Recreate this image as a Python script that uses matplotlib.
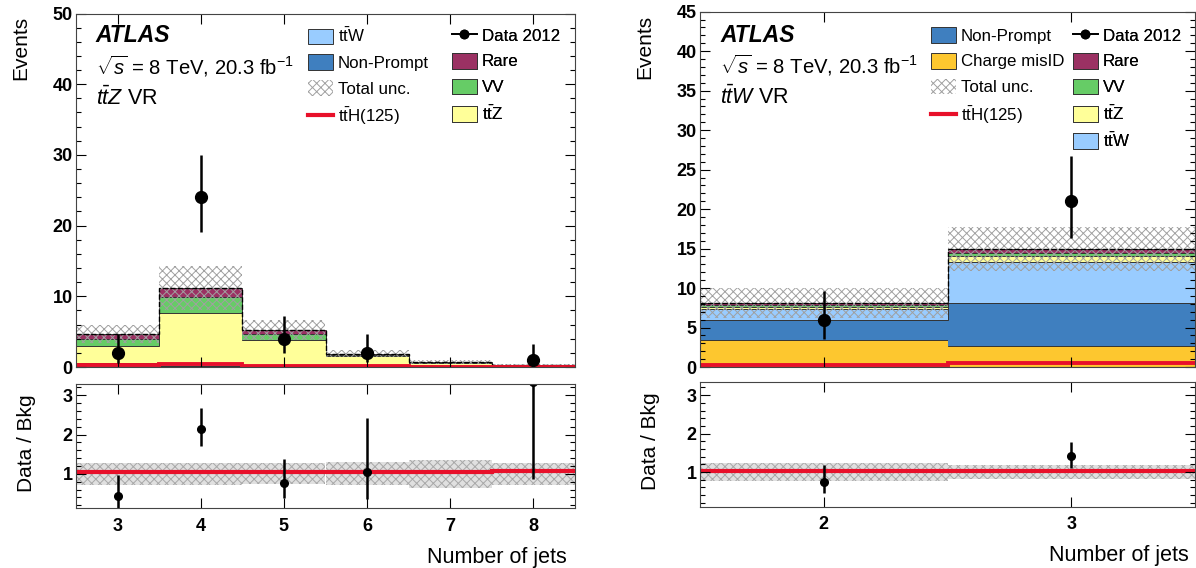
import numpy as np
import matplotlib.pyplot as plt
from matplotlib.patches import Patch
from matplotlib.lines import Line2D

plt.rcParams['font.family'] = ['Liberation Sans', 'DejaVu Sans']
plt.rcParams['mathtext.fontset'] = 'custom'
plt.rcParams['mathtext.rm'] = 'Liberation Sans'
plt.rcParams['mathtext.it'] = 'Liberation Sans:italic'
plt.rcParams['mathtext.bf'] = 'Liberation Sans:bold'
plt.rcParams['hatch.linewidth'] = 0.7

# ttZ validation region (left)
l_njets = [3, 4, 5, 6, 7, 8]
l_nonprompt = [0.3, 0.2, 0.1, 0.05, 0.02, 0.0]
l_ttw = [0.2, 0.2, 0.1, 0.05, 0.02, 0.01]
l_ttz = [2.5, 7.2, 3.65, 1.4, 0.5, 0.15]
l_vv = [1.0, 2.3, 0.85, 0.15, 0.06, 0.04]
l_rare = [0.7, 1.3, 0.5, 0.25, 0.1, 0.1]
l_unc = [1.3, 3.1, 1.4, 0.55, 0.25, 0.085]
l_tth = [0.22, 0.4, 0.2, 0.1, 0.04, 0.02]
l_data = [2, 24, 4, 2, 0, 1]
l_data_lo = [1.45, 4.9, 1.95, 1.3, 0, 0.74]
l_data_hi = [2.6, 6.0, 3.2, 2.6, 0, 2.3]

# ttW validation region (right)
r_njets = [2, 3]
r_misid = [3.45, 2.6]
r_nonprompt = [2.45, 5.55]
r_ttw = [1.5, 5.15]
r_ttz = [0.2, 0.8]
r_vv = [0.2, 0.4]
r_rare = [0.25, 0.4]
r_unc = [1.9, 2.8]
r_tth = [0.2, 0.55]
r_data = [6, 21]
r_data_lo = [2.4, 4.6]
r_data_hi = [3.6, 5.7]

c_ttw = '#99ccff'
c_nonprompt = '#3f7fbf'
c_misid = '#fdc72f'
c_rare = '#9b3163'
c_vv = '#66cc66'
c_ttz = '#ffff99'
c_tth = '#e8102a'

W, H = 1196, 568
fig = plt.figure(figsize=(W / 100, H / 100), dpi=100)


def box(x0, x1, y_top, y_bot):
    return [x0 / W, 1 - y_bot / H, (x1 - x0) / W, (y_bot - y_top) / H]


def px(x, y):
    return x / W, 1 - y / H


def style(ax, xmaj, ymaj, ymin, labels_x=True):
    ax.tick_params(which='both', direction='in', top=True, right=True)
    ax.tick_params(which='major', length=7, width=0.8)
    ax.tick_params(which='minor', length=3.5, width=0.8)
    ax.tick_params(axis='y', pad=2.5, labelsize=13)
    ax.tick_params(axis='x', pad=7, labelsize=13, labelbottom=labels_x)
    ax.set_xticks(xmaj)
    ax.yaxis.set_major_locator(plt.MultipleLocator(ymaj))
    ax.yaxis.set_minor_locator(plt.MultipleLocator(ymin))
    for lab in ax.get_xticklabels() + ax.get_yticklabels():
        lab.set_fontweight('bold')
    for sp in ax.spines.values():
        sp.set_linewidth(0.8)
        sp.set_color('#444444')


def draw(ax, ax_r, njets, layers, unc, tth, data, dlo, dhi):
    njets = np.array(njets, dtype=float)
    edges = np.append(njets - 0.5, njets[-1] + 0.5)
    bottom = np.zeros(len(njets))
    for vals, col in layers:
        top = bottom + np.array(vals)
        ax.stairs(top, edges, baseline=bottom, fill=True, color=col, lw=0)
        ax.stairs(top, edges, baseline=None, color='#333333', lw=0.7)
        bottom = top
    tot = bottom
    unc = np.array(unc)
    ax.bar(njets, 2 * unc, bottom=tot - unc, width=1, fill=False,
           hatch='xxxx', edgecolor='#a0a0a0', lw=0)
    ax.stairs(tot, edges, baseline=None, color='k', ls='--', lw=1)
    ax.stairs(tth, edges, baseline=None, color=c_tth, lw=2.8)

    data = np.array(data, dtype=float)
    ok = data > 0
    ax.errorbar(njets[ok], data[ok],
                yerr=[np.array(dlo)[ok], np.array(dhi)[ok]],
                fmt='o', color='k', ms=8.5, lw=1.8, capsize=0)

    # ratio panel
    ax_r.bar(njets, 2 * unc / tot, bottom=1 - unc / tot, width=1,
             facecolor='#e0e0e0', edgecolor='#a8a8a8', hatch='xxxx', lw=0)
    ax_r.stairs(1 + np.array(tth) / tot, edges, baseline=None,
                color=c_tth, lw=3)
    ax_r.errorbar(njets[ok], data[ok] / tot[ok],
                  yerr=[np.array(dlo)[ok] / tot[ok], np.array(dhi)[ok] / tot[ok]],
                  fmt='o', color='k', ms=5.5, lw=1.8, capsize=0)
    ax.set_xlim(edges[0], edges[-1])
    ax_r.set_xlim(edges[0], edges[-1])


def legend(ax, handles, labels, x, y):
    leg = ax.legend(handles, labels, loc='upper left',
                    bbox_to_anchor=px(x, y), bbox_transform=fig.transFigure,
                    frameon=False, fontsize=12.2, borderpad=0, borderaxespad=0,
                    handlelength=1.45, handleheight=1.05, handletextpad=0.3,
                    labelspacing=0.54)
    ax.add_artist(leg)


def patch(c):
    return Patch(facecolor=c, edgecolor='#333333', lw=0.7)


h_unc = Patch(facecolor='none', edgecolor='#a0a0a0', hatch='xxxx', lw=0)
h_tth = Line2D([], [], color=c_tth, lw=3)
h_data = Line2D([], [], color='k', marker='o', ms=6, lw=1.3)

# ---------- left: ttZ VR ----------
axL = fig.add_axes(box(76, 575, 13.5, 367))
axLr = fig.add_axes(box(76, 575, 383.5, 508))
draw(axL, axLr, l_njets,
     [(l_nonprompt, c_nonprompt), (l_ttw, c_ttw), (l_ttz, c_ttz),
      (l_vv, c_vv), (l_rare, c_rare)],
     l_unc, l_tth, l_data, l_data_lo, l_data_hi)
axL.set_ylim(0, 50)
axLr.set_ylim(0.13, 3.3)
style(axL, l_njets, 10, 2, labels_x=False)
style(axLr, l_njets, 1, 0.2)

legend(axL, [patch(c_ttw), patch(c_nonprompt), h_unc, h_tth],
       [r'$\mathrm{t\bar{t}W}$', 'Non-Prompt', 'Total unc.', r'$\mathrm{t\bar{t}H(125)}$'], 308, 27)
legend(axL, [h_data, patch(c_rare), patch(c_vv), patch(c_ttz)],
       ['Data 2012', 'Rare', 'VV', r'$\mathrm{t\bar{t}Z}$'], 452, 27)

fig.text(*px(95, 36), 'ATLAS', fontsize=16.5, fontweight='bold', style='italic', va='center')
fig.text(*px(96, 66), r'$\sqrt{s}$ = 8 TeV, 20.3 fb$^{-1}$', fontsize=14.6, va='center')
fig.text(*px(96, 98), r'$t\bar{t}Z$ VR', fontsize=15.5, va='center')

fig.text(*px(21, 16), 'Events', rotation=90, fontsize=15, ha='center', va='top')
fig.text(*px(26, 443), 'Data / Bkg', rotation=90, fontsize=15, ha='center', va='center')
fig.text(*px(567, 557), 'Number of jets', fontsize=15.5, ha='right', va='center')

# ---------- right: ttW VR ----------
axR = fig.add_axes(box(700, 1195, 11.7, 367))
axRr = fig.add_axes(box(700, 1195, 381.7, 506.7))
draw(axR, axRr, r_njets,
     [(r_misid, c_misid), (r_nonprompt, c_nonprompt), (r_ttw, c_ttw),
      (r_ttz, c_ttz), (r_vv, c_vv), (r_rare, c_rare)],
     r_unc, r_tth, r_data, r_data_lo, r_data_hi)
axR.set_ylim(0, 45)
axRr.set_ylim(0.1, 3.35)
style(axR, r_njets, 5, 1, labels_x=False)
style(axRr, r_njets, 1, 0.2)

legend(axR, [patch(c_nonprompt), patch(c_misid), h_unc, h_tth],
       ['Non-Prompt', 'Charge misID', 'Total unc.', r'$\mathrm{t\bar{t}H(125)}$'], 931, 27)
legend(axR, [h_data, patch(c_rare), patch(c_vv), patch(c_ttz), patch(c_ttw)],
       ['Data 2012', 'Rare', 'VV', r'$\mathrm{t\bar{t}Z}$', r'$\mathrm{t\bar{t}W}$'], 1073, 27)

fig.text(*px(720, 35), 'ATLAS', fontsize=16.5, fontweight='bold', style='italic', va='center')
fig.text(*px(720, 65), r'$\sqrt{s}$ = 8 TeV, 20.3 fb$^{-1}$', fontsize=14.6, va='center')
fig.text(*px(720, 97), r'$t\bar{t}W$ VR', fontsize=15.5, va='center')

fig.text(*px(645, 15), 'Events', rotation=90, fontsize=15, ha='center', va='top')
fig.text(*px(651, 441), 'Data / Bkg', rotation=90, fontsize=15, ha='center', va='center')
fig.text(*px(1189, 555), 'Number of jets', fontsize=15.5, ha='right', va='center')

fig.savefig('out.png', dpi=100)
